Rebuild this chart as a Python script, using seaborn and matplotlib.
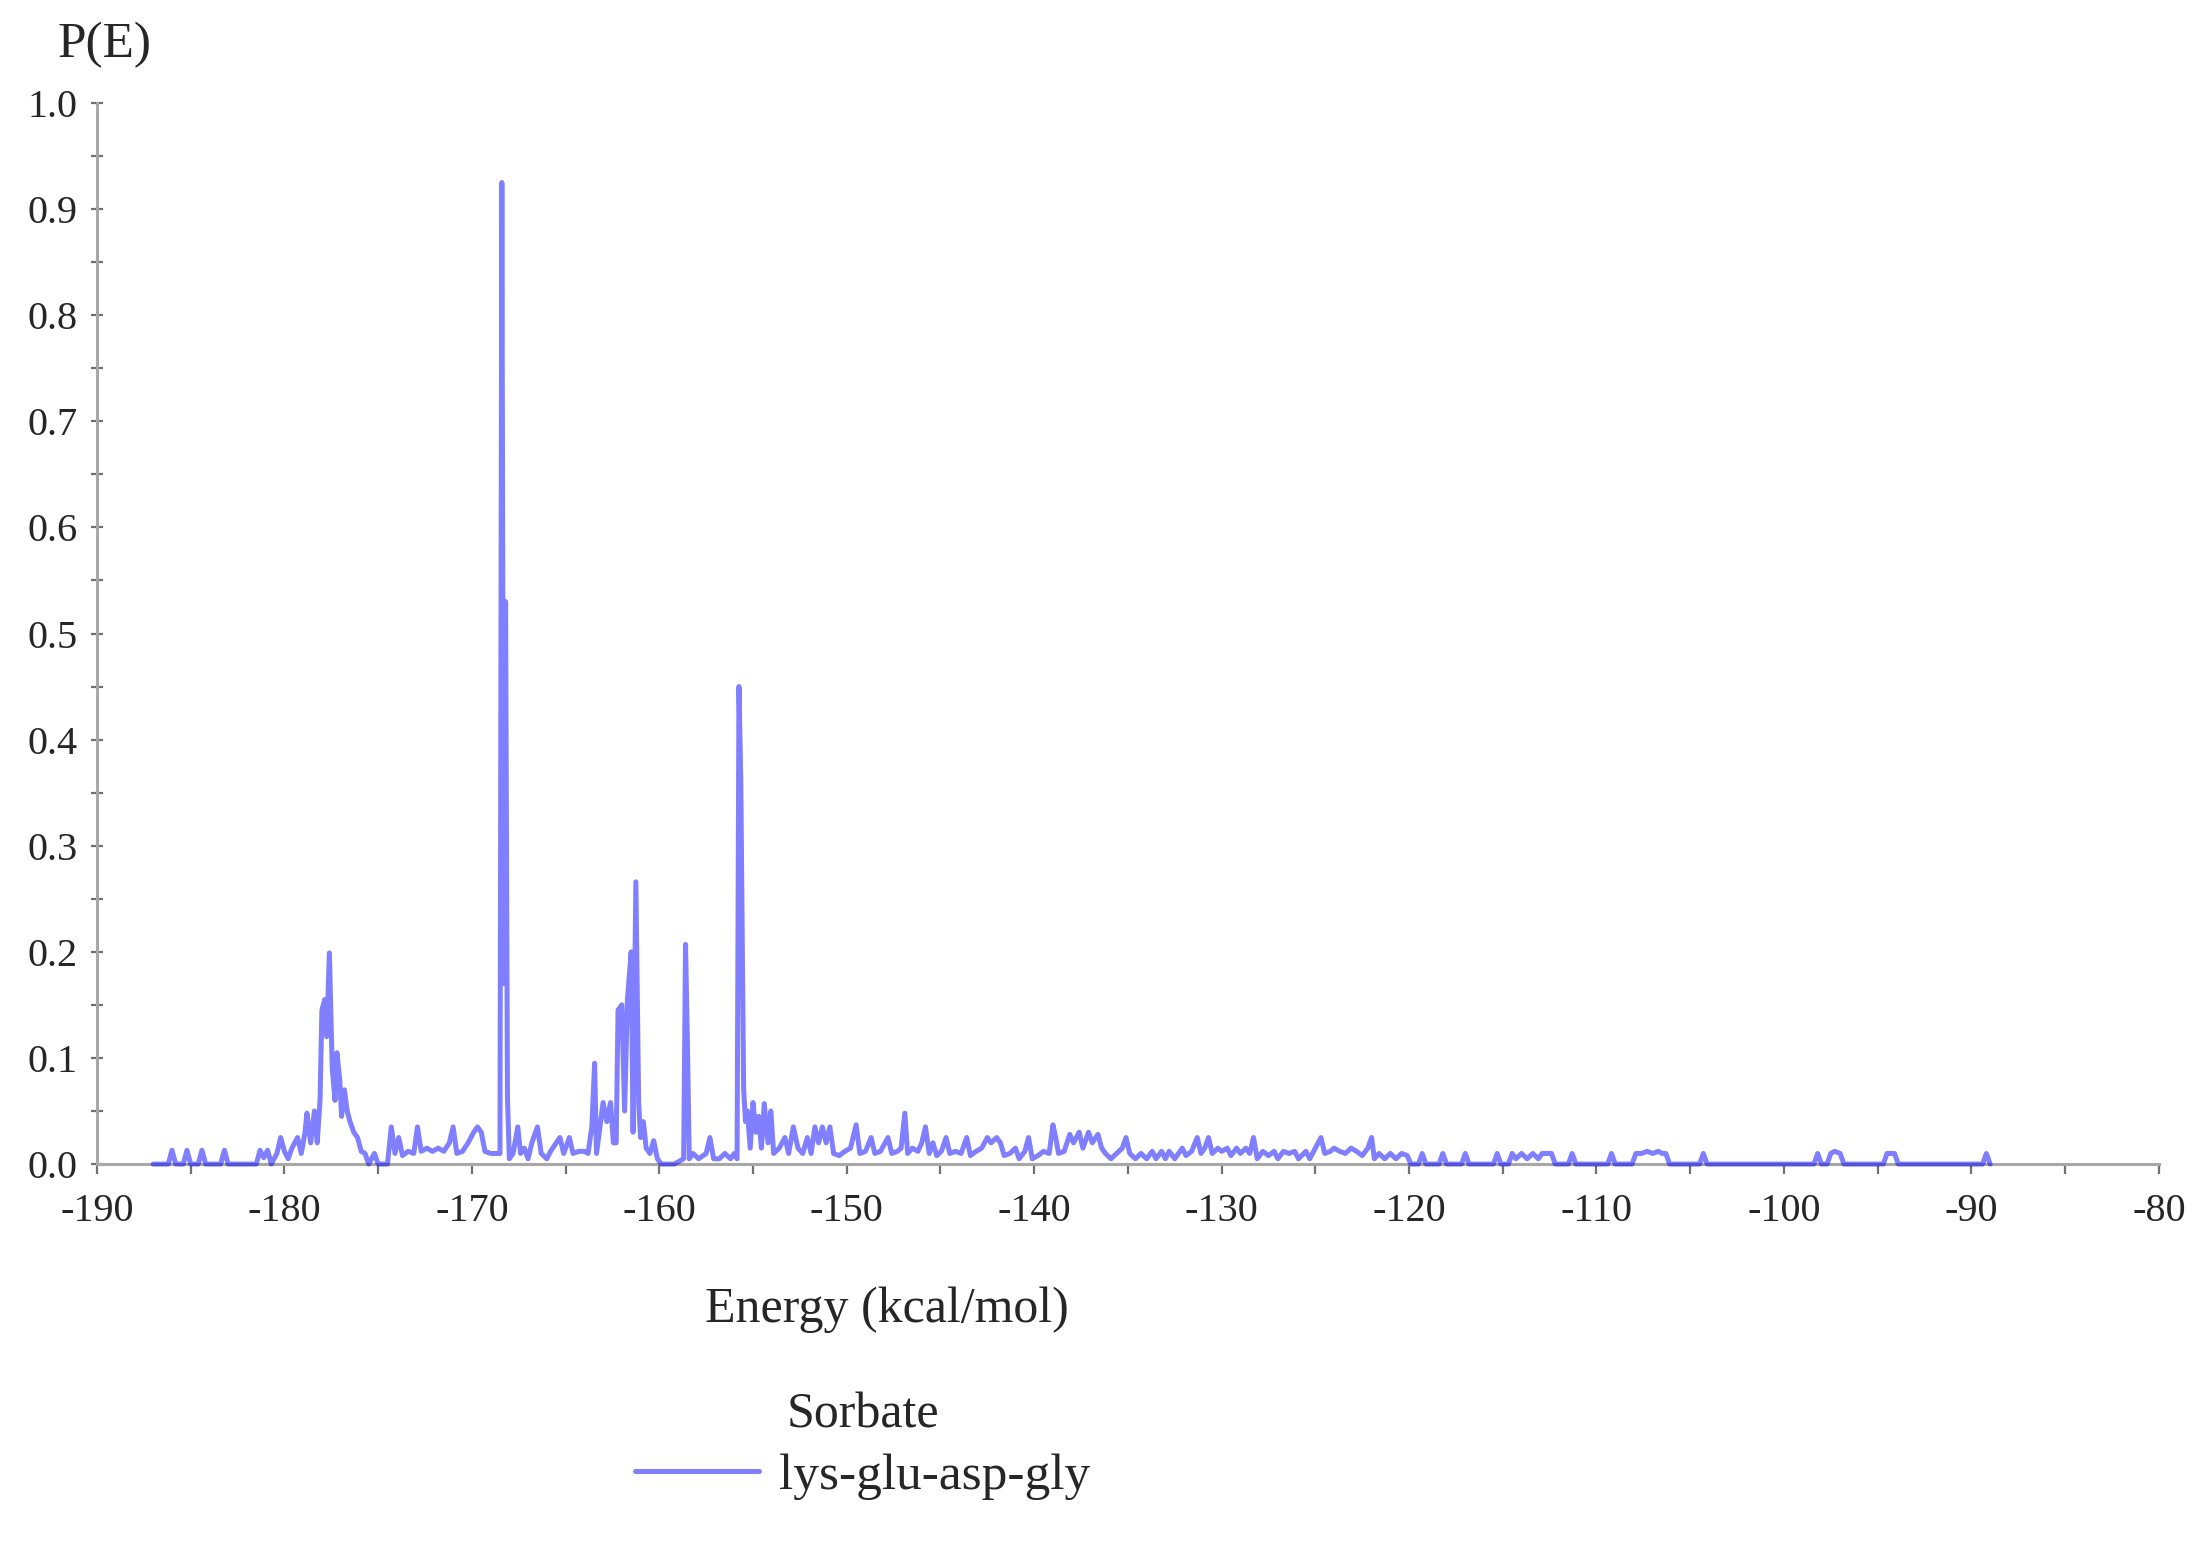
import matplotlib
matplotlib.use("Agg")
from matplotlib import pyplot as plt
from matplotlib.ticker import MultipleLocator, FormatStrFormatter
import seaborn as sns

# Energy distribution P(E) of the sorbate
energy = [
    -187.0, -186.2, -186.0, -185.8, -185.4, -185.2, -185.0, -184.6, -184.4, -184.2,
    -183.4, -183.2, -183.0, -181.5, -181.3, -181.1, -180.9, -180.7,
    -180.4, -180.2, -180.0, -179.8, -179.6, -179.3, -179.1, -178.9, -178.8, -178.6,
    -178.4, -178.25, -178.1, -178.0, -177.85, -177.75, -177.6, -177.45, -177.3, -177.2,
    -177.05, -176.95, -176.8, -176.65, -176.5, -176.3, -176.1, -175.9, -175.7, -175.5,
    -175.2, -175.0, -174.5, -174.3, -174.1, -173.9, -173.7, -173.4, -173.1, -172.9,
    -172.7, -172.4, -172.1, -171.8, -171.5, -171.2, -171.0, -170.8, -170.5, -170.2,
    -169.9, -169.7, -169.5, -169.3, -169.0, -168.7, -168.5, -168.4, -168.3, -168.2,
    -168.1, -168.0, -167.8, -167.55, -167.4, -167.2, -167.0, -166.8, -166.5, -166.3,
    -166.0, -165.8, -165.5, -165.3, -165.1, -164.8, -164.6, -164.3, -164.0, -163.8,
    -163.6, -163.45, -163.35, -163.2, -163.0, -162.8, -162.6, -162.45, -162.3, -162.2,
    -162.0, -161.85, -161.7, -161.5, -161.4, -161.25, -161.1, -161.0, -160.85, -160.7,
    -160.5, -160.3, -160.1, -159.9, -159.2, -158.7, -158.6, -158.5, -158.4, -158.2,
    -157.9, -157.5, -157.3, -157.1, -156.8, -156.5, -156.2, -156.0, -155.85, -155.75,
    -155.65, -155.5, -155.4, -155.3, -155.15, -155.0, -154.85, -154.7, -154.55, -154.4,
    -154.2, -154.05, -153.9, -153.6, -153.3, -153.1, -152.85, -152.6, -152.35, -152.1,
    -151.9, -151.7, -151.5, -151.3, -151.1, -150.9, -150.7, -150.4, -150.1, -149.8,
    -149.5, -149.3, -149.0, -148.7, -148.5, -148.2, -147.8, -147.6, -147.3, -147.1,
    -146.9, -146.75, -146.5, -146.2, -146.0, -145.8, -145.6, -145.4, -145.2, -144.95,
    -144.7, -144.5, -144.2, -143.9, -143.6, -143.4, -143.1, -142.8, -142.5, -142.3,
    -142.0, -141.8, -141.6, -141.3, -141.0, -140.8, -140.5, -140.3, -140.1, -139.8,
    -139.5, -139.2, -139.0, -138.85, -138.7, -138.4, -138.1, -137.9, -137.6, -137.4,
    -137.1, -136.9, -136.6, -136.4, -136.2, -135.9, -135.6, -135.3, -135.1, -134.9,
    -134.6, -134.3, -134.0, -133.7, -133.5, -133.2, -133.0, -132.8, -132.5, -132.1,
    -131.9, -131.6, -131.3, -131.1, -130.9, -130.7, -130.5, -130.2, -130.0, -129.7,
    -129.5, -129.2, -129.0, -128.7, -128.5, -128.3, -128.1, -127.8, -127.5, -127.2,
    -127.0, -126.7, -126.4, -126.1, -125.9, -125.5, -125.3, -125.0, -124.7, -124.5,
    -124.2, -124.0, -123.7, -123.4, -123.1, -122.8, -122.5, -122.2, -122.0, -121.85,
    -121.6, -121.3, -121.0, -120.7, -120.4, -120.1, -119.9, -119.5, -119.3, -119.1,
    -118.4, -118.2, -118.0, -117.2, -117.0, -116.8, -115.5, -115.3, -115.1, -114.7,
    -114.5, -114.3, -114.0, -113.7, -113.4, -113.1, -112.9, -112.7, -112.4, -112.2,
    -111.5, -111.3, -111.1, -109.4, -109.2, -109.0, -108.1, -107.9, -107.6, -107.3,
    -107.0, -106.7, -106.5, -106.3, -106.1, -104.5, -104.3, -104.1, -98.4, -98.2,
    -98.0, -97.7, -97.5, -97.3, -97.0, -96.8, -94.7, -94.5, -94.3, -94.1,
    -93.9, -89.4, -89.2, -89.0,
]
prob = [
    0.0, 0.0, 0.013, 0.0, 0.0, 0.013, 0.0, 0.0, 0.013, 0.0,
    0.0, 0.013, 0.0, 0.0, 0.013, 0.006, 0.013, 0.0,
    0.01, 0.025, 0.012, 0.005, 0.015, 0.025, 0.01, 0.03, 0.048, 0.02,
    0.05, 0.02, 0.06, 0.145, 0.155, 0.12, 0.199, 0.09, 0.06, 0.105,
    0.08, 0.045, 0.07, 0.05, 0.04, 0.03, 0.025, 0.012, 0.01, 0.0,
    0.01, 0.0, 0.0, 0.035, 0.01, 0.025, 0.008, 0.012, 0.01, 0.035,
    0.012, 0.015, 0.012, 0.015, 0.012, 0.02, 0.035, 0.01, 0.012, 0.02,
    0.03, 0.035, 0.03, 0.012, 0.01, 0.01, 0.01, 0.925, 0.17, 0.53,
    0.062, 0.005, 0.01, 0.035, 0.01, 0.015, 0.005, 0.02, 0.035, 0.01,
    0.005, 0.012, 0.02, 0.025, 0.01, 0.025, 0.01, 0.012, 0.012, 0.01,
    0.035, 0.095, 0.01, 0.03, 0.058, 0.04, 0.058, 0.02, 0.02, 0.145,
    0.15, 0.05, 0.155, 0.2, 0.03, 0.266, 0.058, 0.025, 0.04, 0.015,
    0.01, 0.022, 0.005, 0.0, 0.0, 0.005, 0.207, 0.114, 0.005, 0.01,
    0.005, 0.01, 0.025, 0.005, 0.005, 0.01, 0.005, 0.01, 0.005, 0.45,
    0.36, 0.07, 0.04, 0.05, 0.015, 0.058, 0.03, 0.045, 0.015, 0.057,
    0.02, 0.05, 0.01, 0.015, 0.025, 0.01, 0.035, 0.015, 0.01, 0.025,
    0.01, 0.035, 0.02, 0.035, 0.02, 0.035, 0.01, 0.008, 0.012, 0.015,
    0.037, 0.01, 0.012, 0.025, 0.01, 0.012, 0.025, 0.01, 0.012, 0.015,
    0.048, 0.01, 0.015, 0.012, 0.02, 0.035, 0.01, 0.02, 0.008, 0.012,
    0.025, 0.01, 0.012, 0.01, 0.025, 0.008, 0.012, 0.015, 0.025, 0.02,
    0.025, 0.02, 0.008, 0.01, 0.015, 0.005, 0.012, 0.025, 0.005, 0.008,
    0.012, 0.01, 0.037, 0.025, 0.01, 0.012, 0.028, 0.02, 0.03, 0.015,
    0.03, 0.02, 0.028, 0.015, 0.01, 0.005, 0.01, 0.015, 0.025, 0.01,
    0.005, 0.01, 0.005, 0.012, 0.005, 0.012, 0.005, 0.012, 0.005, 0.015,
    0.008, 0.012, 0.025, 0.01, 0.015, 0.025, 0.01, 0.015, 0.012, 0.015,
    0.008, 0.015, 0.01, 0.015, 0.01, 0.025, 0.005, 0.012, 0.008, 0.012,
    0.005, 0.012, 0.01, 0.012, 0.005, 0.012, 0.005, 0.015, 0.025, 0.01,
    0.012, 0.015, 0.012, 0.01, 0.015, 0.012, 0.008, 0.015, 0.025, 0.005,
    0.01, 0.005, 0.01, 0.005, 0.01, 0.008, 0.0, 0.0, 0.01, 0.0,
    0.0, 0.01, 0.0, 0.0, 0.01, 0.0, 0.0, 0.01, 0.0, 0.0,
    0.01, 0.005, 0.01, 0.005, 0.01, 0.005, 0.01, 0.01, 0.01, 0.0,
    0.0, 0.01, 0.0, 0.0, 0.01, 0.0, 0.0, 0.01, 0.01, 0.012,
    0.01, 0.012, 0.01, 0.01, 0.0, 0.0, 0.01, 0.0, 0.0, 0.01,
    0.0, 0.0, 0.01, 0.012, 0.01, 0.0, 0.0, 0.01, 0.01, 0.01,
    0.0, 0.0, 0.01, 0.0,
]
series_name = "lys-glu-asp-gly"
legend_title = "Sorbate"
x_ticks = list(range(-190, -79, 10))
y_ticks = [0.0, 0.1, 0.2, 0.3, 0.4, 0.5, 0.6, 0.7, 0.8, 0.9, 1.0]

sns.set_theme(style="white")
plt.rcParams['font.family'] = ['Liberation Serif', 'DejaVu Serif']
plt.rcParams['axes.unicode_minus'] = False

fig = plt.figure(figsize=(22.04, 15.41), dpi=100)
ax = fig.add_axes([0.0440, 0.2446, 0.9355, 0.6886])

sns.lineplot(x=energy, y=prob, ax=ax, estimator=None, sort=False,
             color="#0000ff", alpha=0.5, linewidth=3.6, label=series_name,
             clip_on=False, zorder=5)

ax.set_xlim(-190, -80)
ax.set_ylim(0, 1.0)
ax.set_xticks(x_ticks)
ax.set_yticks(y_ticks)
ax.xaxis.set_minor_locator(MultipleLocator(5))
ax.yaxis.set_minor_locator(MultipleLocator(0.05))
ax.yaxis.set_major_formatter(FormatStrFormatter('%.1f'))
ax.set_xlabel('')
ax.set_ylabel('')

for side in ['top', 'right']:
    ax.spines[side].set_visible(False)
for side in ['left', 'bottom']:
    ax.spines[side].set_color('#a8a8a8')
    ax.spines[side].set_linewidth(2.2)

ax.tick_params(axis='x', which='both', direction='out', length=7, width=1.6,
               color='#707070', labelsize=29, pad=14, bottom=True)
ax.tick_params(axis='y', which='both', direction='inout', length=8, width=1.6,
               color='#707070', labelsize=29, pad=10, left=True)

fig.text(105 / 2204, 1 - 45 / 1541, 'P(E)', fontsize=37, ha='center', va='center')
fig.text(887 / 2204, 1 - 1310 / 1541, 'Energy (kcal/mol)', fontsize=36,
         ha='center', va='center')

leg = ax.legend(title=legend_title, loc='center', frameon=False,
                bbox_to_anchor=(863 / 2204, 1 - 1446 / 1541),
                bbox_transform=fig.transFigure, fontsize=37, title_fontsize=36,
                handlelength=2.4, handletextpad=0.4, borderpad=0, labelspacing=0.3)

fig.savefig("out.png", dpi=100, facecolor="white")
